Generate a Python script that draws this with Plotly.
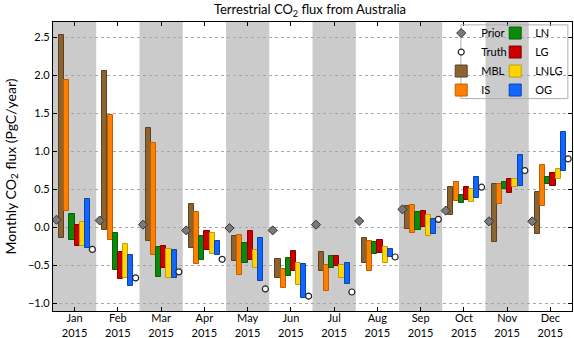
import plotly.graph_objects as go

months = ["Jan", "Feb", "Mar", "Apr", "May", "Jun", "Jul", "Aug", "Sep", "Oct", "Nov", "Dec"]
year = "2015"

prior = [0.10, 0.09, 0.035, -0.04, -0.01, -0.04, 0.035, 0.083, 0.236, 0.22, 0.079, 0.079]
truth = [-0.29, -0.665, -0.585, -0.42, -0.81, -0.905, -0.85, -0.39, 0.105, 0.528, 0.747, 0.90]

MBL_hi = [2.525, 2.05, 1.307, 0.31, -0.11, -0.41, -0.32, -0.14, 0.275, 0.53, 0.57, 0.463]
MBL_lo = [-0.135, -0.03, -0.18, -0.27, -0.44, -0.665, -0.57, -0.47, -0.02, 0.157, -0.19, -0.092]
IS_hi = [1.935, 1.477, 1.105, 0.20, -0.10, -0.55, -0.50, -0.18, 0.29, 0.594, 0.57, 0.82]
IS_lo = [0.214, -0.17, -0.36, -0.485, -0.63, -0.80, -0.835, -0.57, -0.075, 0.345, 0.31, 0.275]
LN_hi = [0.18, -0.07, -0.26, -0.11, -0.20, -0.40, -0.38, -0.19, 0.20, 0.43, 0.594, 0.66]
LN_lo = [-0.17, -0.56, -0.65, -0.43, -0.47, -0.64, -0.53, -0.355, -0.03, 0.32, 0.507, 0.564]
LG_hi = [0.026, -0.32, -0.245, -0.05, -0.05, -0.315, -0.38, -0.166, 0.22, 0.537, 0.638, 0.71]
LG_lo = [-0.25, -0.685, -0.54, -0.30, -0.43, -0.57, -0.51, -0.337, 0.005, 0.354, 0.45, 0.55]
LNLG_hi = [0.07, -0.215, -0.29, -0.08, -0.30, -0.47, -0.50, -0.26, 0.157, 0.507, 0.638, 0.77]
LNLG_lo = [-0.245, -0.66, -0.67, -0.355, -0.54, -0.76, -0.66, -0.47, -0.11, 0.33, 0.53, 0.638]
OG_hi = [0.367, -0.37, -0.30, -0.18, -0.14, -0.485, -0.47, -0.29, 0.114, 0.668, 0.952, 1.25]
OG_lo = [-0.266, -0.773, -0.67, -0.37, -0.70, -0.935, -0.74, -0.39, -0.083, 0.384, 0.55, 0.747]

series = [
    ("MBL", MBL_lo, MBL_hi, "#8c6432", "#5e4220"),
    ("IS", IS_lo, IS_hi, "#ff8000", "#c06000"),
    ("LN", LN_lo, LN_hi, "#0a8a0a", "#066006"),
    ("LG", LG_lo, LG_hi, "#cc0000", "#8a0000"),
    ("LNLG", LNLG_lo, LNLG_hi, "#ffd400", "#c0a000"),
    ("OG", OG_lo, OG_hi, "#1166ff", "#0a44b0"),
]
legend_of = {"MBL": "legend", "IS": "legend", "LN": "legend2", "LG": "legend2",
             "LNLG": "legend2", "OG": "legend2"}

xs = list(range(1, len(months) + 1))
bw = 0.12
offsets = [-0.30, -0.18, -0.06, 0.06, 0.18, 0.30]

fig = go.Figure()

# background bands
for i in xs:
    if i % 2 == 1:
        fig.add_shape(type="rect", xref="x", yref="paper", x0=i - 0.5, x1=i + 0.5,
                      y0=0, y1=1, fillcolor="#cbcbcb", line_width=0, layer="below")

for k, (name, lo, hi, col, edge) in enumerate(series):
    fig.add_trace(go.Bar(
        x=[x + offsets[k] for x in xs],
        y=[h - l for h, l in zip(hi, lo)],
        base=lo,
        width=bw,
        name=name,
        marker=dict(color=col, line=dict(color=edge, width=1)),
        legend=legend_of[name],
        legendrank=2 + k,
    ))

fig.add_trace(go.Scatter(
    x=[x - 0.42 for x in xs], y=prior, mode="markers", name="Prior",
    marker=dict(symbol="diamond", size=7, color="#7a7a7a", line=dict(color="#333333", width=1)),
    legend="legend", legendrank=0,
))
fig.add_trace(go.Scatter(
    x=[x + 0.41 for x in xs], y=truth, mode="markers", name="Truth",
    marker=dict(symbol="circle", size=6, color="white", line=dict(color="#222222", width=1.2)),
    legend="legend", legendrank=1,
))

# legend frame
fig.add_shape(type="rect", xref="paper", yref="paper", x0=0.786, x1=0.992, y0=0.735, y1=0.99,
              line=dict(color="#b0b0b0", width=1), fillcolor="rgba(255,255,255,0)", layer="above")

font_family = "Lato, 'DejaVu Sans', sans-serif"

fig.update_layout(
    width=574, height=338,
    margin=dict(l=53, r=2, t=22, b=27),
    paper_bgcolor="white", plot_bgcolor="white",
    barmode="overlay",
    font=dict(family=font_family, size=11, color="black"),
    title=dict(text="Terrestrial CO<sub>2</sub> flux from Australia", x=0.54, xanchor="center",
               y=0.972, yanchor="middle", font=dict(size=13)),
    legend=dict(x=0.748, y=1.012, xanchor="left", yanchor="top", bgcolor="rgba(0,0,0,0)",
                font=dict(size=11), tracegroupgap=0),
    legend2=dict(x=0.852, y=1.012, xanchor="left", yanchor="top", bgcolor="rgba(0,0,0,0)",
                 font=dict(size=11), tracegroupgap=0),
    bargap=0,
)

fig.update_xaxes(
    range=[0.5, 12.5], tickmode="array", tickvals=xs,
    ticktext=[f"{m}<br>{year}" for m in months],
    showgrid=False, zeroline=False, automargin=False,
    showline=True, linecolor="black", linewidth=1.2, mirror="ticks",
    ticks="inside", ticklen=4, tickcolor="black", ticklabelstandoff=-3,
)
fig.update_yaxes(
    range=[-1.1, 2.7], tickmode="array", tickvals=[-1.0, -0.5, 0.0, 0.5, 1.0, 1.5, 2.0, 2.5],
    ticktext=["\u22121.0", "\u22120.5", "0.0", "0.5", "1.0", "1.5", "2.0", "2.5"],
    showgrid=True, gridcolor="#a8a8a8", griddash="dot", gridwidth=1, zeroline=False,
    automargin=False,
    showline=True, linecolor="black", linewidth=1.2, mirror="ticks",
    ticks="inside", ticklen=4, tickcolor="black",
    title=dict(text="Monthly CO<sub>2</sub> flux (PgC/year)", font=dict(size=14), standoff=8),
)

fig.write_html("out.html", config={"displayModeBar": False},
               post_script="document.body.style.margin='0';document.body.style.padding='0';")
